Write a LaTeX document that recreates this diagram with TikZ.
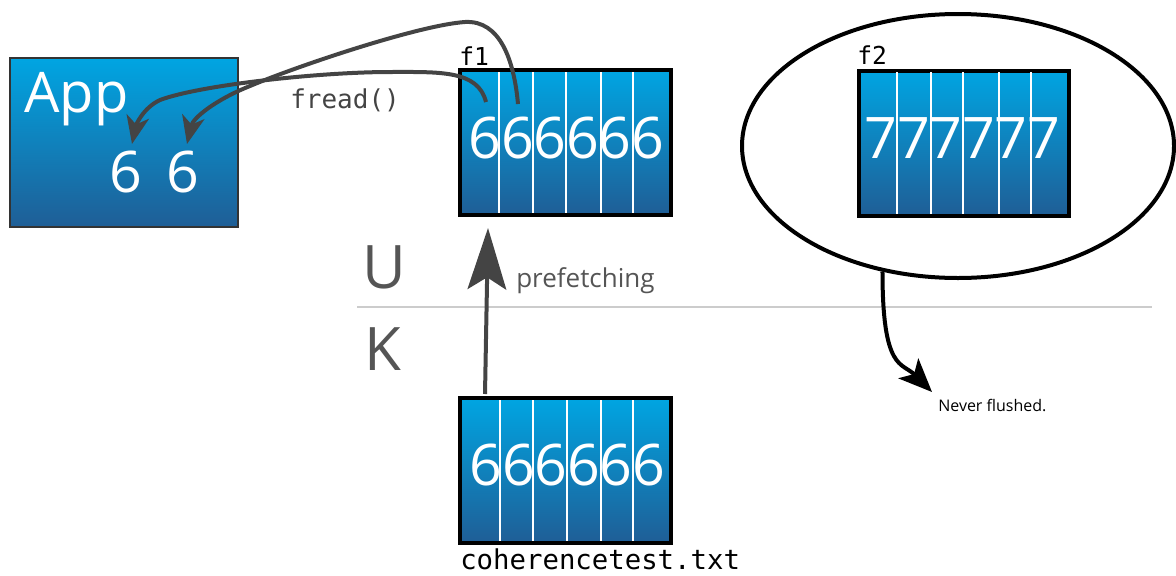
\documentclass[tikz,border=0pt]{standalone}
\usepackage{fontspec}
\setmainfont{Open Sans}
\setmonofont{DejaVu Sans Mono}
\usetikzlibrary{arrows.meta,shapes.geometric}
\definecolor{topc}{RGB}{0,165,226}
\definecolor{botc}{RGB}{31,94,150}
\definecolor{arrg}{HTML}{444444}
\definecolor{txtg}{HTML}{555555}
\definecolor{lineg}{HTML}{CCCCCC}
\tikzset{
  blockbox/.style={top color=topc, bottom color=botc, draw=black, line width=3pt,
    minimum width=158pt, minimum height=108.75pt, inner sep=0pt},
  appbox/.style={top color=topc, bottom color=botc, draw=black!80, line width=1.2pt,
    minimum width=171pt, minimum height=126.75pt, inner sep=0pt},
  digit/.style={text=white, font=\fontsize{43}{43}\selectfont, inner sep=0pt},
  divider/.style={white, line width=1.5pt},
  monolabel/.style={font=\ttfamily\fontsize{18.5}{18.5}\selectfont, inner sep=0pt, anchor=base west},
  biglabel/.style={text=txtg, font=\fontsize{45}{45}\selectfont, inner sep=0pt, anchor=base west},
  grayarrow/.style={arrg, line width=3pt, -{Stealth[length=21pt,width=17pt,inset=6pt]}},
}
\begin{document}
\begin{tikzpicture}[x=0.75pt,y=-0.75pt]
\useasboundingbox (0,0) rectangle (1176,575);

% U/K separator
\draw[lineg, line width=1.5pt] (357,307) -- (1152,307);
\node[biglabel] (U) at (362,288) {U};
\node[biglabel] (K) at (364,370) {K};

% App box
\node[appbox] (app) at (124,142.5) {};
\node[text=white, font=\fontsize{42}{42}\selectfont, inner sep=0pt, anchor=base west] (apptxt) at (24,112) {App};
\node[digit] (a6a) at (126,172) {6};
\node[digit] (a6b) at (183,172) {6};

% f1 box
\node[blockbox] (f1) at (565.5,142.5) {};
\foreach \x in {499,533,566,601,633} \draw[divider] (\x,72) -- (\x,213);
\foreach \i/\x in {1/485,2/517.5,3/550,4/582.5,5/615,6/647.5}
  \node[digit] (f1d\i) at (\x,138) {6};
\node[monolabel] (f1lab) at (459,65) {f1};

% f2 box inside ellipse
\node[draw=black, line width=3pt, ellipse, minimum width=324pt, minimum height=198pt] (ell) at (958,146) {};
\node[blockbox] (f2) at (964,143) {};
\foreach \x in {897,931,963,999,1031} \draw[divider] (\x,72) -- (\x,214);
\foreach \i/\x in {1/881,2/913.5,3/946,4/978.5,5/1011,6/1043.5}
  \node[digit] (f2d\i) at (\x,138) {7};
\node[monolabel] (f2lab) at (857,64) {f2};

% bottom file box
\node[blockbox] (bot) at (565.5,470.5) {};
\foreach \x in {500,533,567,601,633} \draw[divider] (\x,400) -- (\x,541);
\foreach \i/\x in {1/486,2/518.5,3/551,4/583.5,5/616,6/648.5}
  \node[digit] (bd\i) at (\x,465) {6};
\node[monolabel, font=\ttfamily\fontsize{20.5}{20.5}\selectfont] (fname) at (460,569) {coherencetest.txt};

% prefetching arrow
\coordinate (pfs) at (485,394);
\coordinate (pft) at (488,228);
\draw[arrg, line width=3pt, -{Stealth[length=46pt,width=29pt,inset=9pt]}] (pfs) -- (pft);
\node[text=txtg, font=\fontsize{19.5}{19.5}\selectfont, inner sep=0pt, anchor=base west] (pf) at (516,287) {prefetching};

% fread arrows
\coordinate (r1s) at (486,102);
\coordinate (r2s) at (518,104);
\coordinate (r1t) at (132,144);
\coordinate (r2t) at (187,144);
\draw[grayarrow] (r1s) .. controls (478,70) and (440,72) .. (390,72)
  .. controls (320,72) and (200,85) .. (160,100)
  .. controls (143,108) and (136,125) .. (r1t);
\draw[grayarrow] (r2s) .. controls (514,60) and (500,20) .. (465,22)
  .. controls (420,25) and (300,65) .. (250,86)
  .. controls (215,100) and (193,118) .. (r2t);
\node[text=arrg, font=\ttfamily\fontsize{19.5}{19.5}\selectfont, inner sep=0pt, anchor=base west] (fread) at (290,108) {fread()};

% never flushed
\coordinate (nft) at (932,392);
\draw[black, line width=3pt, -{Stealth[length=25pt,width=21pt,inset=6pt]}]
  (ell.239) .. controls +(0,100) and +(-30,-30) .. (nft);
\node[font=\fontsize{12}{12}\selectfont, inner sep=0pt, anchor=base west] (nf) at (938,411) {Never flushed.};
\end{tikzpicture}
\end{document}
